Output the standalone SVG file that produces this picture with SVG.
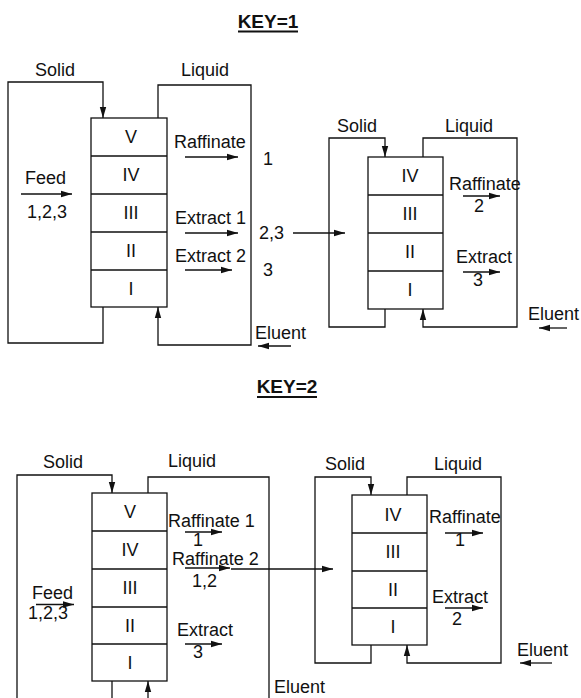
<svg xmlns="http://www.w3.org/2000/svg" width="581" height="698" viewBox="0 0 581 698">
<style>
text{font-family:"Liberation Sans",Arial,sans-serif;font-size:18px;fill:#111}
.m{text-anchor:middle}
.t{font-weight:bold;font-size:19px}
.ln{fill:none;stroke:#111;stroke-width:1.3}
.ar{fill:none;stroke:#111;stroke-width:1.3;marker-end:url(#ah)}
.col{fill:#fff;stroke:#111;stroke-width:1.3}
</style>
<defs>
<marker id="ah" markerUnits="userSpaceOnUse" markerWidth="11" markerHeight="8" refX="11" refY="4" orient="auto">
<path d="M0,0.8 L11,4 L0,7.2 z" fill="#111"/>
</marker>
</defs>
<rect width="581" height="698" fill="#fff"/>

<g id="titles">
<text class="t m" x="268" y="28">KEY=1</text>
<line x1="238" y1="31.5" x2="298" y2="31.5" stroke="#111" stroke-width="2"/>
<text class="t m" x="287" y="393">KEY=2</text>
<line x1="257" y1="397" x2="317" y2="397" stroke="#111" stroke-width="2"/>
</g>

<g id="connectors">
<!-- key1 left -->
<path class="ar" d="M103,307 V343 H8 V82 H103 V118"/>
<path class="ar" d="M158,118 V85 H251 V345 H158 V307"/>
<path class="ar" d="M185,157 H238"/>
<path class="ar" d="M21,194 H72"/>
<path class="ar" d="M185,233 H238"/>
<path class="ar" d="M185,270 H232"/>
<path class="ar" d="M293,233 H345"/>
<path class="ar" d="M291,346 H258"/>
<!-- key1 right -->
<path class="ar" d="M385,309 V327 H329 V138 H385 V157"/>
<path class="ar" d="M423,157 V138 H517 V327 H423 V309"/>
<path class="ar" d="M463,196 H500"/>
<path class="ar" d="M463,272 H500"/>
<path class="ar" d="M567,328 H539"/>
<!-- key2 left -->
<path class="ln" d="M112,681 V700"/>
<path class="ar" d="M17,700 V475 H112 V493"/>
<path class="ar" d="M148,700 V681"/>
<path class="ln" d="M148,493 V477 H269 V700"/>
<path class="ar" d="M185,532 H222"/>
<path class="ar" d="M185,568 H230"/>
<path class="ar" d="M231,569 H333"/>
<path class="ar" d="M36,604.5 H74"/>
<path class="ar" d="M185,644 H222"/>
<!-- key2 right -->
<path class="ar" d="M371,645 V663 H315 V477 H371 V495"/>
<path class="ar" d="M407,495 V477 H501 V663 H407 V645"/>
<path class="ar" d="M445,533 H483"/>
<path class="ar" d="M445,608 H483"/>
<path class="ar" d="M552,663 H520"/>
</g>

<g id="column-k1-a">
<rect class="col" x="91" y="118" width="76" height="189"/>
<path class="ln" d="M91,156 H167 M91,194 H167 M91,232 H167 M91,270 H167"/>
<text class="m" x="131" y="143">V</text>
<text class="m" x="131" y="181">IV</text>
<text class="m" x="131" y="219">III</text>
<text class="m" x="131" y="257">II</text>
<text class="m" x="131" y="295">I</text>
</g>

<g id="column-k1-b">
<rect class="col" x="368" y="157" width="75" height="152"/>
<path class="ln" d="M368,195 H443 M368,233 H443 M368,271 H443"/>
<text class="m" x="410" y="182">IV</text>
<text class="m" x="410" y="220">III</text>
<text class="m" x="410" y="258">II</text>
<text class="m" x="410" y="296">I</text>
</g>

<g id="column-k2-a">
<rect class="col" x="92" y="493" width="75" height="188"/>
<path class="ln" d="M92,531 H167 M92,569 H167 M92,607 H167 M92,644 H167"/>
<text class="m" x="130" y="518">V</text>
<text class="m" x="130" y="556">IV</text>
<text class="m" x="130" y="594">III</text>
<text class="m" x="130" y="632">II</text>
<text class="m" x="130" y="669">I</text>
</g>

<g id="column-k2-b">
<rect class="col" x="352" y="495" width="75" height="150"/>
<path class="ln" d="M352,533 H427 M352,571 H427 M352,608 H427"/>
<text class="m" x="393" y="521">IV</text>
<text class="m" x="393" y="558">III</text>
<text class="m" x="393" y="596">II</text>
<text class="m" x="393" y="633">I</text>
</g>

<g id="labels-k1-a">
<text class="m" x="55" y="76">Solid</text>
<text class="m" x="205" y="76">Liquid</text>
<text x="174" y="148">Raffinate</text>
<text class="m" x="268" y="165">1</text>
<text x="25" y="184">Feed</text>
<text x="27" y="218">1,2,3</text>
<text x="175" y="224">Extract 1</text>
<text x="259" y="239">2,3</text>
<text x="175" y="262">Extract 2</text>
<text class="m" x="268" y="276">3</text>
<text x="255" y="339">Eluent</text>
</g>

<g id="labels-k1-b">
<text class="m" x="357" y="132">Solid</text>
<text class="m" x="469" y="132">Liquid</text>
<text x="449" y="190">Raffinate</text>
<text class="m" x="479" y="212">2</text>
<text x="456" y="263">Extract</text>
<text class="m" x="478" y="286">3</text>
<text x="528" y="320">Eluent</text>
</g>

<g id="labels-k2-a">
<text class="m" x="63" y="468">Solid</text>
<text class="m" x="192" y="467">Liquid</text>
<text x="168" y="527">Raffinate 1</text>
<text class="m" x="198" y="546">1</text>
<text x="172" y="565">Raffinate 2</text>
<text x="192" y="587">1,2</text>
<text x="32" y="599">Feed</text>
<text x="28" y="619">1,2,3</text>
<text x="177" y="636">Extract</text>
<text class="m" x="198" y="658">3</text>
<text x="274" y="693">Eluent</text>
</g>

<g id="labels-k2-b">
<text class="m" x="345" y="470">Solid</text>
<text class="m" x="458" y="470">Liquid</text>
<text x="429" y="523">Raffinate</text>
<text class="m" x="460" y="546">1</text>
<text x="432" y="603">Extract</text>
<text class="m" x="457" y="625">2</text>
<text x="517" y="656">Eluent</text>
</g>
</svg>
